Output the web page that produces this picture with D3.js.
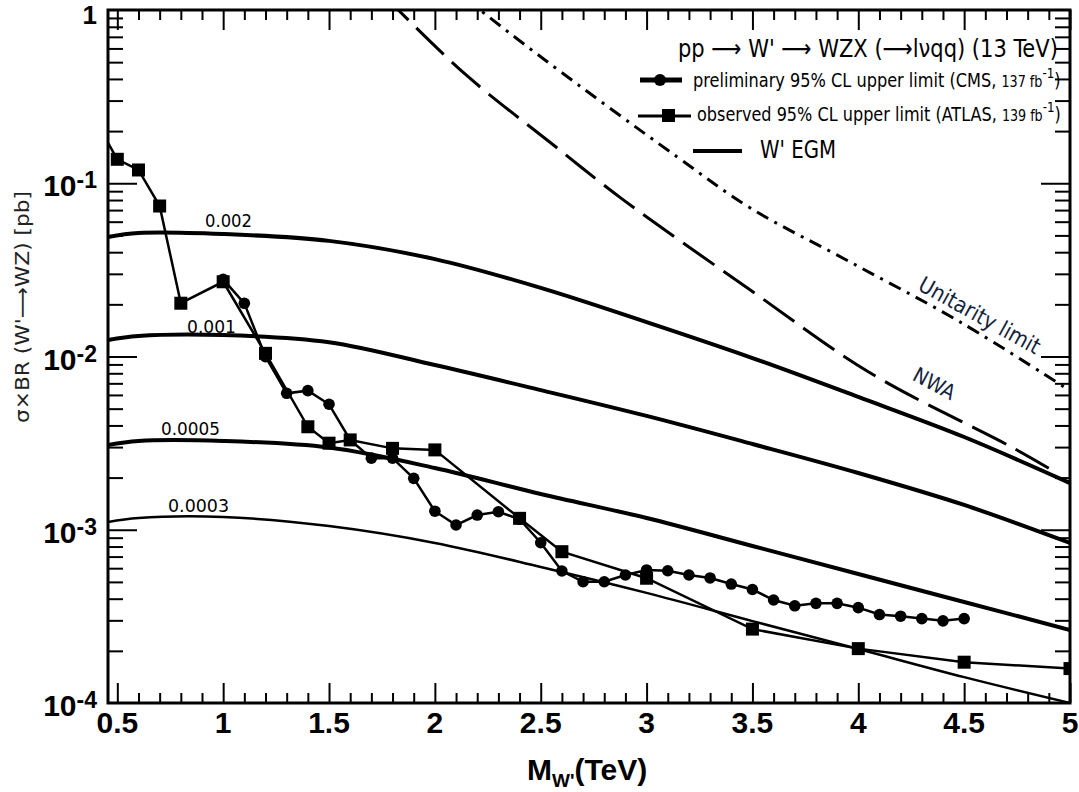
<!DOCTYPE html>
<html>
<head>
<meta charset="utf-8">
<script src="https://cdn.jsdelivr.net/npm/d3@7"></script>
<style>
body { margin: 0; background: #fff; }
</style>
</head>
<body>
<div id="chart"></div>
<script>
// W' EGM curves (x = M_W' in TeV, y = sigma x BR in pb), one per coupling
var egmMass = [0.456, 0.6, 1.0, 1.5, 2.0, 2.5, 3.0, 3.5, 4.0, 4.5, 5.0];
var egm0002 = [0.049, 0.0516, 0.0509, 0.0465, 0.0365, 0.0249, 0.0158, 0.0098, 0.00584, 0.00343, 0.00186];
var egm0001 = [0.01245, 0.01313, 0.0133, 0.0121, 0.00893, 0.0064, 0.00454, 0.003126, 0.002126, 0.00139, 0.000839];
var egm00005 = [0.003085, 0.003253, 0.003253, 0.00298, 0.002272, 0.001608, 0.001169, 0.000806, 0.000555, 0.000383, 0.000264];
var egm00003 = [0.001108, 0.001169, 0.001185, 0.00105, 0.000839, 0.00061, 0.000432, 0.000297, 0.000205, 0.000141, 0.0001];
var egmLabels = ["0.002", "0.001", "0.0005", "0.0003"];

// CMS preliminary limit (circles)
var cmsMass = [1.0, 1.1, 1.2, 1.3, 1.4, 1.5, 1.6, 1.7, 1.8, 1.9, 2.0, 2.1, 2.2, 2.3, 2.4, 2.5, 2.6, 2.7,
               2.8, 2.9, 3.0, 3.1, 3.2, 3.3, 3.4, 3.5, 3.6, 3.7, 3.8, 3.9, 4.0, 4.1, 4.2, 4.3, 4.4, 4.5];
var cmsLimit = [0.0279, 0.02028, 0.00997, 0.00613, 0.00635, 0.0053, 0.0033, 0.00259, 0.00259, 0.00198,
                0.00128, 0.001065, 0.001216, 0.00127, 0.00115, 0.000842, 0.000578, 0.000501, 0.000501, 0.000548,
                0.000586, 0.00058, 0.000548, 0.000527, 0.000486, 0.000452, 0.000393, 0.000364, 0.000376, 0.000376,
                0.000355, 0.000324, 0.000317, 0.000307, 0.000298, 0.000307];

// ATLAS observed limit (squares); first point lies left of the frame
var atlasMass = [0.4, 0.5, 0.6, 0.7, 0.8, 1.0, 1.2, 1.4, 1.5, 1.6, 1.8, 2.0, 2.4, 2.6, 3.0, 3.5, 4.0, 4.5, 5.0];
var atlasLimit = [0.226, 0.1375, 0.1193, 0.0739, 0.0203, 0.027, 0.01043, 0.00393, 0.00316, 0.0033, 0.00295,
                  0.00289, 0.001164, 0.000747, 0.000525, 0.000267, 0.000206, 0.000172, 0.000158];

// NWA (dashed) and unitarity limit (dash-dot)
var nwaMass = [1.75, 1.827, 2.153, 2.554, 2.89, 3.49, 4.057, 4.733, 4.931];
var nwaXsec = [1.25, 1.0, 0.416, 0.1685, 0.0802, 0.0242, 0.00803, 0.00296, 0.00215];
var unitMass = [2.15, 2.213, 2.52, 3.145, 3.49, 3.962, 4.482, 5.002];
var unitXsec = [1.15, 1.0, 0.5145, 0.1417, 0.072, 0.0351, 0.0158, 0.00632];

var xTicks = [0.5, 1, 1.5, 2, 2.5, 3, 3.5, 4, 4.5, 5];
var xTickLabels = ["0.5", "1", "1.5", "2", "2.5", "3", "3.5", "4", "4.5", "5"];
var yTicks = [1, 0.1, 0.01, 0.001, 0.0001];
var yTickExp = ["", "-1", "-2", "-3", "-4"];

var W = 1079, H = 792;
var plotL = 108, plotR = 1070, plotT = 10, plotB = 703;

var svg = d3.select("#chart").append("svg")
    .attr("width", W).attr("height", H)
    .style("font-family", "'Liberation Sans', Arial, sans-serif");

var x = d3.scaleLinear().domain([0.456, 5.0]).range([plotL, plotR]);
var y = d3.scaleLog().domain([1e-4, 1]).range([plotB, plotT]);

svg.append("clipPath").attr("id", "plot")
    .append("rect").attr("x", plotL).attr("y", plotT)
    .attr("width", plotR - plotL).attr("height", plotB - plotT);

var plot = svg.append("g").attr("clip-path", "url(#plot)");

function zip(ms, vs) { return ms.map(function(m, i) { return [m, vs[i]]; }); }

var smooth = d3.line().x(function(d) { return x(d[0]); }).y(function(d) { return y(d[1]); })
    .curve(d3.curveCatmullRom.alpha(0.5));
var straight = d3.line().x(function(d) { return x(d[0]); }).y(function(d) { return y(d[1]); });

// EGM curves
var egmSets = [egm0002, egm0001, egm00005, egm00003];
var egmWidth = [4, 4, 4, 2.5];
egmSets.forEach(function(vals, i) {
    plot.append("path").datum(zip(egmMass, vals))
        .attr("d", smooth).attr("fill", "none")
        .attr("stroke", "#000").attr("stroke-width", egmWidth[i]);
});

// NWA and unitarity
plot.append("path").datum(zip(nwaMass, nwaXsec))
    .attr("d", smooth).attr("fill", "none").attr("stroke", "#000")
    .attr("stroke-width", 3).attr("stroke-dasharray", "38,11");
plot.append("path").datum(zip(unitMass, unitXsec))
    .attr("d", smooth).attr("fill", "none").attr("stroke", "#000")
    .attr("stroke-width", 3).attr("stroke-dasharray", "13,7,3,7");

// ATLAS
var atlas = zip(atlasMass, atlasLimit);
plot.append("path").datum(atlas).attr("d", straight)
    .attr("fill", "none").attr("stroke", "#000").attr("stroke-width", 2.5);
plot.selectAll(".sq").data(atlas.slice(1)).enter().append("rect")
    .attr("x", function(d) { return x(d[0]) - 6.5; })
    .attr("y", function(d) { return y(d[1]) - 6.5; })
    .attr("width", 13).attr("height", 13).attr("fill", "#000");

// CMS
var cms = zip(cmsMass, cmsLimit);
plot.append("path").datum(cms).attr("d", straight)
    .attr("fill", "none").attr("stroke", "#000").attr("stroke-width", 2.5);
plot.selectAll(".dot").data(cms).enter().append("circle")
    .attr("cx", function(d) { return x(d[0]); })
    .attr("cy", function(d) { return y(d[1]); })
    .attr("r", 5.8).attr("fill", "#000");

// axes (ticks point inwards, mirrored on top and right)
var xMinor = [];
for (var i = 6; i <= 49; i++) { if (i % 5 !== 0) xMinor.push(i / 10); }
var yMinor = [];
[-4, -3, -2, -1].forEach(function(k) {
    for (var j = 2; j <= 9; j++) yMinor.push(j * Math.pow(10, k));
});

function tickLayer(axis) {
    var g = svg.append("g").call(axis);
    g.select(".domain").remove();
    g.selectAll("line").attr("stroke", "#000").attr("stroke-width", 2);
    g.selectAll("text").remove();
    return g;
}
tickLayer(d3.axisBottom(x).tickValues(xTicks).tickSize(-20)).attr("transform", "translate(0," + plotB + ")");
tickLayer(d3.axisBottom(x).tickValues(xMinor).tickSize(-10)).attr("transform", "translate(0," + plotB + ")");
tickLayer(d3.axisTop(x).tickValues(xTicks).tickSize(-20)).attr("transform", "translate(0," + plotT + ")");
tickLayer(d3.axisTop(x).tickValues(xMinor).tickSize(-10)).attr("transform", "translate(0," + plotT + ")");
tickLayer(d3.axisLeft(y).tickValues([0.1, 0.01, 0.001]).tickSize(-29)).attr("transform", "translate(" + plotL + ",0)");
tickLayer(d3.axisLeft(y).tickValues(yMinor).tickSize(-15)).attr("transform", "translate(" + plotL + ",0)");
tickLayer(d3.axisRight(y).tickValues([0.1, 0.01, 0.001]).tickSize(-29)).attr("transform", "translate(" + plotR + ",0)");
tickLayer(d3.axisRight(y).tickValues(yMinor).tickSize(-15)).attr("transform", "translate(" + plotR + ",0)");

svg.append("rect").attr("x", plotL).attr("y", plotT)
    .attr("width", plotR - plotL).attr("height", plotB - plotT)
    .attr("fill", "none").attr("stroke", "#000").attr("stroke-width", 3);

// x tick labels
svg.selectAll(".xl").data(xTicks).enter().append("text")
    .attr("x", function(d) { return x(d); }).attr("y", 733)
    .attr("text-anchor", "middle").attr("font-size", 30).attr("font-weight", "bold")
    .text(function(d, i) { return xTickLabels[i]; });

// y tick labels with superscript exponents
yTicks.forEach(function(v, i) {
    var ty = y(v);
    if (yTickExp[i] === "") {
        svg.append("text").attr("x", 97).attr("y", ty + 14).attr("text-anchor", "end")
            .attr("font-size", 26).attr("font-weight", "bold").text("1");
        return;
    }
    var t = svg.append("text").attr("x", 97).attr("y", ty + 13).attr("text-anchor", "end")
        .attr("font-weight", "bold");
    t.append("tspan").attr("font-size", 30).text("10");
    t.append("tspan").attr("font-size", 23).attr("dy", -8).text(yTickExp[i]);
});

// axis titles
var xt = svg.append("text").attr("x", 527).attr("y", 780).attr("font-weight", "bold").attr("font-size", 30);
xt.append("tspan").text("M");
xt.append("tspan").attr("font-size", 19).attr("dy", 7).text("W'");
xt.append("tspan").attr("dy", -7).text("(TeV)");

svg.append("text").attr("transform", "translate(29,307) rotate(-90)")
    .attr("text-anchor", "middle").attr("font-size", 20).attr("fill", "#222")
    .attr("textLength", 232).attr("lengthAdjust", "spacingAndGlyphs")
    .style("font-family", "'DejaVu Sans Condensed', 'DejaVu Sans', sans-serif")
    .text("\u03c3\u00d7BR (W'\u27f6WZ) [pb]");

// EGM coupling labels
var egmLabelPos = [[205, 227, 47], [187, 333, 49], [161, 435, 59], [168, 512, 61]];
egmLabels.forEach(function(s, i) {
    var p = egmLabelPos[i];
    svg.append("text").attr("x", p[0]).attr("y", p[1]).attr("font-size", 18)
        .attr("textLength", p[2]).attr("lengthAdjust", "spacingAndGlyphs")
        .style("font-family", "'DejaVu Sans', sans-serif").text(s);
});

// curve labels
svg.append("text").attr("transform", "translate(931,390) rotate(28)")
    .attr("text-anchor", "middle").attr("font-size", 21).attr("fill", "#14233d")
    .style("font-family", "'DejaVu Sans Condensed', 'DejaVu Sans', sans-serif").text("NWA");
svg.append("text").attr("transform", "translate(976,322) rotate(29)")
    .attr("text-anchor", "middle").attr("font-size", 22).attr("fill", "#14233d")
    .style("font-family", "'DejaVu Sans Condensed', 'DejaVu Sans', sans-serif").text("Unitarity limit");

// legend
function fitText(t, x0, width) {
    var w = t.node().getBBox().width;
    t.attr("transform", "translate(" + x0 + ",0) scale(" + (width / w) + ",1) translate(" + (-x0) + ",0)");
}
var lg = svg.append("g").style("font-family", "'DejaVu Sans Condensed', 'DejaVu Sans', sans-serif");

var title = lg.append("text").attr("x", 678).attr("y", 57).attr("font-size", 25)
    .text("pp \u27f6 W' \u27f6 WZX (\u27f6l\u03bdqq) (13 TeV)");
fitText(title, 678, 380);

lg.append("line").attr("x1", 640).attr("x2", 682).attr("y1", 80).attr("y2", 80)
    .attr("stroke", "#000").attr("stroke-width", 5);
lg.append("circle").attr("cx", 660).attr("cy", 80).attr("r", 6).attr("fill", "#000");
var l1 = lg.append("text").attr("x", 693).attr("y", 87).attr("font-size", 19);
l1.append("tspan").text("preliminary  95% CL upper limit (CMS, ");
l1.append("tspan").attr("font-size", 15).text("137 fb");
l1.append("tspan").attr("font-size", 14).attr("dy", -9).text("-1");
l1.append("tspan").attr("dy", 9).text(")");
fitText(l1, 693, 368);

lg.append("line").attr("x1", 638).attr("x2", 691).attr("y1", 116).attr("y2", 116)
    .attr("stroke", "#000").attr("stroke-width", 3);
lg.append("rect").attr("x", 662).attr("y", 109).attr("width", 13).attr("height", 13).attr("fill", "#000");
var l2 = lg.append("text").attr("x", 697).attr("y", 121).attr("font-size", 19);
l2.append("tspan").text("observed  95% CL upper limit (ATLAS, ");
l2.append("tspan").attr("font-size", 15).text("139 fb");
l2.append("tspan").attr("font-size", 14).attr("dy", -9).text("-1");
l2.append("tspan").attr("dy", 9).text(")");
fitText(l2, 697, 364);

lg.append("line").attr("x1", 693).attr("x2", 742).attr("y1", 151).attr("y2", 151)
    .attr("stroke", "#000").attr("stroke-width", 4);
var l3 = lg.append("text").attr("x", 760).attr("y", 158).attr("font-size", 24).text("W' EGM");
fitText(l3, 760, 76);
</script>
</body>
</html>
